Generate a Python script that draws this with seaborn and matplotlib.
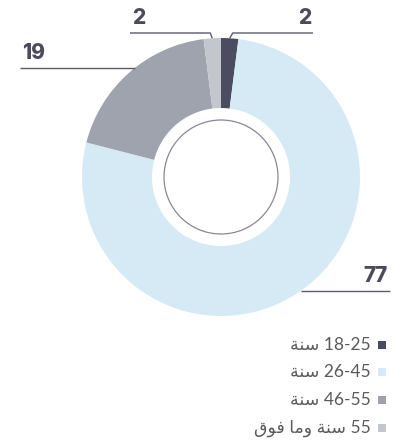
import numpy as np
import matplotlib
matplotlib.use("Agg")
import matplotlib.pyplot as plt
from matplotlib.patches import Circle
import seaborn as sns

# Age distribution (percent)
categories = ["18-25", "26-45", "46-55", "55+"]
values = [2, 77, 19, 2]

# Legend labels, written in visual (left-to-right) order with Arabic presentation forms
SANA = "\uFE94\uFEE8\uFEB3"            # سنة
WAMA = "\uFE8E\uFEE3\uFEED"            # وما
FAWQ = "\uFED5\uFEEE\uFED3"            # فوق
legend_labels = [
    f"{SANA} 18-25",
    f"{SANA} 26-45",
    f"{SANA} 46-55",
    f"{FAWQ} {WAMA} {SANA} 55",
]

colors = ["#4b4c5f", "#d6eaf5", "#9ea3ae", "#c3c6cd"]

sns.set_theme(style="white")
plt.rcParams["font.family"] = ["Lato", "DejaVu Sans"]

W, H = 395, 444
fig = plt.figure(figsize=(W / 100, H / 100), dpi=100)
ax = fig.add_axes([0, 0, 1, 1])


def py(y):
    """Convert a top-down pixel row into data y."""
    return H - y


cx, cy, R = 221, py(177), 139
hole = 69

wedges, _ = ax.pie(
    values,
    colors=colors,
    startangle=90,
    counterclock=False,
    radius=R,
    center=(cx, cy),
    wedgeprops=dict(width=R - hole, linewidth=0),
)

# thin ring inside the hole
ax.add_patch(Circle((cx, cy), 57, fill=False, edgecolor="#8a8797", linewidth=0.9))

# leader layout for each slice: (row of the horizontal line, far end x, elbow dx)
leader_y = [33, 291, 68, 33]
leader_end = [313, 390, 20, 130]
elbow_dx = [3, 0, 0, -2]

line_color = "#5b5b6b"
num_color = "#4b4b5c"
for w, v, ly, ex, edx in zip(wedges, values, leader_y, leader_end, elbow_dx):
    mid = np.deg2rad((w.theta1 + w.theta2) / 2)
    sx = cx + R * np.cos(mid)
    sy = cy + R * np.sin(mid)
    row = py(ly)
    if edx != 0:
        # short slanted tick from the slice edge up to the line row
        pts_x = [sx, sx + edx, ex]
        pts_y = [sy, row, row]
    else:
        # horizontal line meeting the outer rim on that row
        half = np.sqrt(max(R ** 2 - (row - cy) ** 2, 0))
        rim_x = cx + half if ex > cx else cx - half
        pts_x = [rim_x, ex]
        pts_y = [row, row]
    ax.plot(pts_x, pts_y, color=line_color, linewidth=1.0, solid_capstyle="butt")
    ha = "right" if ex > sx else "left"
    tx = ex - 2 if ha == "right" else ex + 2
    ax.text(tx, row + 5, str(v), ha=ha, va="bottom", fontsize=15,
            fontweight="heavy", color=num_color, family=["Inter", "DejaVu Sans"])

# legend: text on the left, square marker on the right
rows = [345, 372, 400, 428]
for lab, col, r in zip(legend_labels, colors, rows):
    ax.scatter([382], [py(r)], marker="s", s=34, color=col, linewidths=0)
    ax.text(371, py(r), lab, ha="right", va="center", fontsize=12.5,
            color="#5a5a5e", family=["Lato", "DejaVu Sans"])

ax.set_xlim(0, W)
ax.set_ylim(0, H)
ax.set_aspect("auto")
ax.axis("off")

fig.savefig("out.png", dpi=100)
